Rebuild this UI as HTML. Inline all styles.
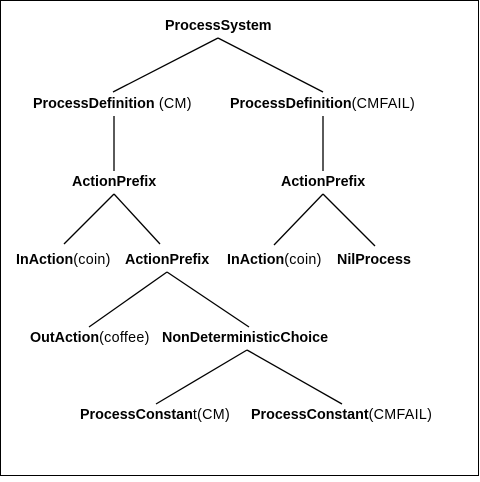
<!DOCTYPE html>
<html><head><style>
body{margin:0;background:#fff;}
svg text{font-family:"Liberation Sans",Arial,sans-serif;font-size:14.3px;fill:#000;letter-spacing:0.3px;}
.b{font-weight:bold;letter-spacing:0;}
</style></head><body>
<svg width="480" height="477" viewBox="0 0 480 477" xmlns="http://www.w3.org/2000/svg">
<rect x="0.5" y="0.5" width="478" height="475" fill="#fff" stroke="#000" stroke-width="1"/>
<g stroke="#000" stroke-width="1.3" fill="none">
<line x1="218" y1="38" x2="113" y2="92"/>
<line x1="218" y1="38" x2="323" y2="92"/>
<line x1="114" y1="116" x2="114" y2="171"/>
<line x1="323" y1="116" x2="323" y2="171"/>
<line x1="114" y1="194" x2="64" y2="244"/>
<line x1="114" y1="194" x2="160" y2="244"/>
<line x1="323" y1="194" x2="274" y2="245"/>
<line x1="323" y1="194" x2="375" y2="246"/>
<line x1="167" y1="272" x2="89" y2="327"/>
<line x1="167" y1="272" x2="249" y2="327"/>
<line x1="247" y1="350" x2="156" y2="404"/>
<line x1="247" y1="350" x2="342" y2="404"/>
</g>
<text x="165" y="30" class="b">ProcessSystem</text>
<text x="33" y="108"><tspan class="b">ProcessDefinition</tspan> (CM)</text>
<text x="230" y="108"><tspan class="b">ProcessDefinition</tspan>(CMFAIL)</text>
<text x="72" y="186" class="b">ActionPrefix</text>
<text x="281" y="186" class="b">ActionPrefix</text>
<text x="16" y="264"><tspan class="b">InAction</tspan>(coin)</text>
<text x="125" y="264" class="b">ActionPrefix</text>
<text x="227" y="264"><tspan class="b">InAction</tspan>(coin)</text>
<text x="337" y="264" class="b">NilProcess</text>
<text x="30" y="342"><tspan class="b">OutAction</tspan>(coffee)</text>
<text x="162" y="342" class="b">NonDeterministicChoice</text>
<text x="80" y="419"><tspan class="b">ProcessConstan</tspan>t(CM)</text>
<text x="251" y="419"><tspan class="b">ProcessConstant</tspan>(CMFAIL)</text>
</svg>
</body></html>
